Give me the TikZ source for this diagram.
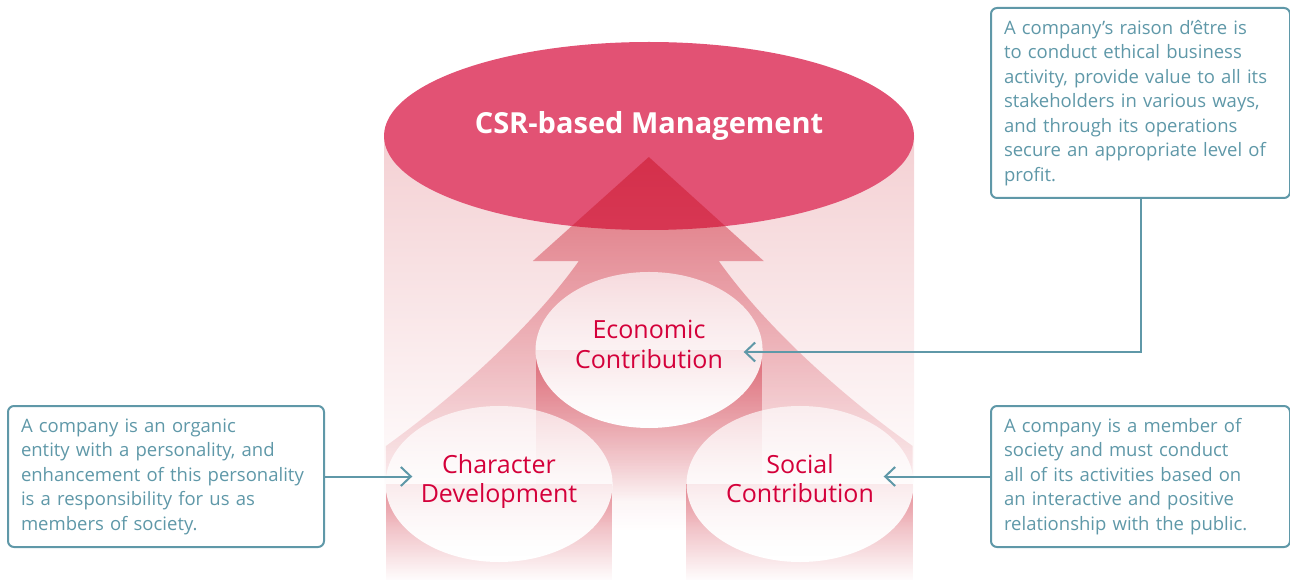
\documentclass[tikz,border=0pt]{standalone}
\usepackage{amssymb,amsmath}
\usepackage{fontspec}
\setmainfont{Open Sans}
\usetikzlibrary{shapes.geometric,arrows.meta,calc,fadings}

\definecolor{csrred}{RGB}{226,82,116}
\definecolor{bodypink}{RGB}{244,208,211}
\definecolor{arrowred}{RGB}{200,15,35}
\definecolor{labelred}{RGB}{212,0,58}
\definecolor{boxteal}{RGB}{95,152,168}

\tikzfading[name=fadedown, top color=transparent!0, middle color=transparent!10, bottom color=transparent!100]
\tikzfading[name=softdown, top color=transparent!35, bottom color=transparent!0]

\begin{document}
\begin{tikzpicture}[x = 1pt, y = -1pt]
    \tikzstyle{every node} = [font = \fontsize{18.5}{24.5}\selectfont];
    \tikzstyle{infobox} = [draw = boxteal, line width = 2pt, rounded corners = 6pt, text = boxteal, align = left, text width = 273pt, inner xsep = 13pt, inner ysep = 0pt];
    \tikzstyle{topic} = [ellipse, fill = white, path fading = softdown, minimum width = 227pt, minimum height = 156pt, inner sep = 0pt, align = center, text depth = 11pt, text = labelred, font = \fontsize{25}{29.5}\selectfont];
    \tikzstyle{pointer} = [draw = boxteal, line width = 2pt, -{Straight Barb[length = 10pt, width = 19pt]}];
    \useasboundingbox (0,0) rectangle (1290,580);
    % cylinder:
    \shade[top color = bodypink, middle color = bodypink, bottom color = white] (384,136) rectangle (914,500);
    \node[ellipse, fill = csrred, minimum width = 530pt, minimum height = 188pt, inner sep = 0pt] (csr) at (649,136) {};
    \node[text = white, font = \fontsize{29}{36}\selectfont\bfseries] (csrtitle) at (649,126) {CSR-based Management};
    % arrow:
    \fill[arrowred, fill opacity = 0.5, path fading = fadedown]
        (533,261) -- (649,157) -- (764,261) -- (719,261)
        .. controls (768,330) and (848,400) .. (913,446) -- (913,530) -- (386,530) -- (386,446)
        .. controls (450,400) and (530,330) .. (579,261) -- cycle;
    % columns:
    \fill[arrowred, fill opacity = 0.45, path fading = fadedown] (536,350) rectangle (762,500);
    \fill[arrowred, fill opacity = 0.45, path fading = fadedown] (386,484) rectangle (612,582);
    \fill[arrowred, fill opacity = 0.45, path fading = fadedown] (686,484) rectangle (913,582);
    % topics:
    \node[topic] (eco) at (649,350) {Economic\\Contribution};
    \node[topic] (chr) at (499,484) {Character\\Development};
    \node[topic] (soc) at (800,484) {Social\\Contribution};
    % boxes:
    \node[infobox, anchor = north west, minimum height = 190pt] (ecobox) at (990,7)
        {A company’s raison d’être is\\to conduct ethical business\\activity, provide value to all its\\stakeholders in various ways,\\and through its operations\\secure an appropriate level of\\profit.};
    \node[infobox, anchor = north west, minimum height = 141pt, text width = 290pt] (chrbox) at (7,405)
        {A company is an organic\\entity with a personality, and\\enhancement of this personality\\is a responsibility for us as\\members of society.};
    \node[infobox, anchor = north west, minimum height = 141pt] (socbox) at (990,405)
        {A company is a member of\\society and must conduct\\all of its activities based on\\an interactive and positive\\relationship with the public.};
    % pointers:
    \draw[pointer] (ecobox.south) |- ($(eco.east)+(-19,2)$);
    \draw[pointer] (chrbox.east) -- ($(chrbox.east -| chr.west)+(27,0)$);
    \draw[pointer] (socbox.west) -- ($(socbox.west -| soc.east)+(-30,0)$);
\end{tikzpicture}
\end{document}
